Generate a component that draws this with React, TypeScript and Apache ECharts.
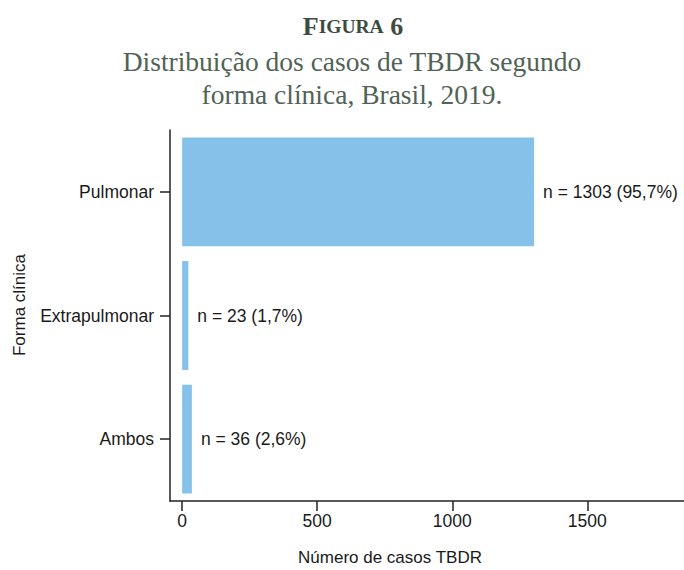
import React, { useEffect, useRef } from "react";
import * as echarts from "echarts";

const categories = ["Pulmonar", "Extrapulmonar", "Ambos"];
const caseCounts = [1303, 23, 36];
const percentLabels = ["95,7%", "1,7%", "2,6%"];
const xTickValues = [0, 500, 1000, 1500];
const figureLabel = ["F", "IGURA", "6"];
const titleLines = ["Distribuição dos casos de TBDR segundo", "forma clínica, Brasil, 2019."];
const xAxisTitle = "Número de casos TBDR";
const yAxisTitle = "Forma clínica";

const SANS = '"Liberation Sans", Arial, sans-serif';
const SERIF = '"Liberation Serif", "Times New Roman", serif';

export default function App() {
  const ref = useRef<HTMLDivElement>(null);
  useEffect(() => {
    const chart = echarts.init(ref.current!, null, { renderer: "svg" });
    chart.setOption({
      animation: false,
      backgroundColor: "#ffffff",
      grid: { left: 170, top: 130, width: 514, height: 371, containLabel: false },
      xAxis: {
        type: "value",
        min: -45,
        max: 1858,
        axisLine: { show: true, onZero: false, lineStyle: { color: "#222", width: 1.5 } },
        axisTick: { show: true, customValues: xTickValues, length: 10, lineStyle: { color: "#222", width: 1.5 } },
        axisLabel: {
          customValues: xTickValues,
          fontSize: 17.5,
          color: "#1a1a1a",
          margin: 11,
          fontFamily: SANS,
          formatter: (v: number) => String(v),
        },
        splitLine: { show: false },
      },
      yAxis: {
        type: "category",
        data: categories,
        inverse: true,
        axisLine: { show: true, onZero: false, lineStyle: { color: "#222", width: 1.5 } },
        axisTick: { show: true, alignWithLabel: true, length: 10, lineStyle: { color: "#222", width: 1.5 } },
        axisLabel: { fontSize: 17.5, color: "#1a1a1a", margin: 16, fontFamily: SANS },
        splitLine: { show: false },
      },
      series: [
        {
          type: "bar",
          data: caseCounts,
          barCategoryGap: "12%",
          itemStyle: { color: "#85C1E9" },
          label: {
            show: true,
            position: "right",
            distance: 9,
            fontSize: 17.5,
            color: "#1a1a1a",
            fontFamily: SANS,
            formatter: (p: any) => `n = ${p.value} (${percentLabels[p.dataIndex]})`,
          },
        },
      ],
      graphic: [
        {
          type: "text",
          x: 353,
          y: 26,
          style: {
            text: `{a|${figureLabel[0]}}{b|${figureLabel[1]}}{a| ${figureLabel[2]}}`,
            align: "center",
            verticalAlign: "middle",
            rich: {
              a: { fontSize: 26, fontWeight: "bold", fontFamily: SERIF, fill: "#3d4c42" },
              b: { fontSize: 19.5, fontWeight: "bold", fontFamily: SERIF, fill: "#3d4c42" },
            },
          },
        },
        {
          type: "text",
          x: 352,
          y: 61,
          style: {
            text: titleLines[0],
            align: "center",
            verticalAlign: "middle",
            font: `27.5px ${SERIF}`,
            fill: "#506356",
          },
        },
        {
          type: "text",
          x: 352,
          y: 94,
          style: {
            text: titleLines[1],
            align: "center",
            verticalAlign: "middle",
            font: `27.5px ${SERIF}`,
            fill: "#506356",
          },
        },
        {
          type: "text",
          x: 390,
          y: 557,
          style: {
            text: xAxisTitle,
            align: "center",
            verticalAlign: "middle",
            font: `17px ${SANS}`,
            fill: "#1a1a1a",
          },
        },
        {
          type: "text",
          x: 19,
          y: 305,
          rotation: Math.PI / 2,
          style: {
            text: yAxisTitle,
            align: "center",
            verticalAlign: "middle",
            font: `17px ${SANS}`,
            fill: "#1a1a1a",
          },
        },
      ],
    });
    return () => chart.dispose();
  }, []);
  return <div ref={ref} style={{ position: "absolute", left: 0, top: 0, width: 684, height: 570 }} />;
}
